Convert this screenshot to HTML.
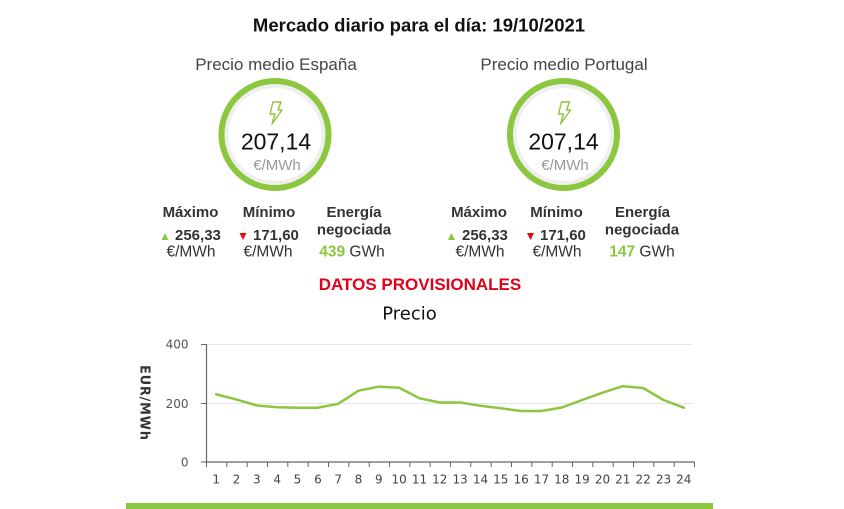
<!DOCTYPE html>
<html>
<head>
<meta charset="utf-8">
<style>
  html,body{margin:0;padding:0;background:#fff;}
  body{width:844px;height:509px;overflow:hidden;}
  svg{display:block;}
  .sans{font-family:"Liberation Sans", Arial, sans-serif;}
  .dj{font-family:"DejaVu Sans", "Liberation Sans", sans-serif;}
</style>
</head>
<body>
<svg width="844" height="509" viewBox="0 0 844 509" xmlns="http://www.w3.org/2000/svg">
  <rect width="844" height="509" fill="#fff"/>

  <!-- Title -->
  <text class="sans" x="419" y="31.5" text-anchor="middle" font-size="18.5" font-weight="bold" fill="#111">Mercado diario para el día: 19/10/2021</text>

  <!-- Spain block -->
  <text class="sans" x="276" y="70" text-anchor="middle" font-size="17" fill="#444">Precio medio España</text>
  <circle cx="275" cy="134.5" r="48.5" fill="none" stroke="#efefef" stroke-width="4"/>
  <circle cx="275" cy="134.5" r="53.5" fill="none" stroke="#8dc63f" stroke-width="6"/>
  <path d="M273,102 L281,102 L278,110 L282,110 L272,124 L275,114 L270,114 Z" fill="none" stroke="#8dc63f" stroke-width="1.4" stroke-linejoin="round"/>
  <text class="sans" x="276" y="149.5" text-anchor="middle" font-size="23" fill="#111">207,14</text>
  <text class="sans" x="277" y="170" text-anchor="middle" font-size="15" fill="#999">€/MWh</text>

  <text class="sans" x="190.5" y="217" text-anchor="middle" font-size="15" font-weight="bold" fill="#333">Máximo</text>
  <text class="sans" x="269" y="217" text-anchor="middle" font-size="15" font-weight="bold" fill="#333">Mínimo</text>
  <text class="sans" x="354" y="217" text-anchor="middle" font-size="15" font-weight="bold" fill="#333">Energía</text>
  <text class="sans" x="354" y="234.5" text-anchor="middle" font-size="15" font-weight="bold" fill="#333">negociada</text>

  <polygon points="161.5,240 168.5,240 165,233" fill="#8dc63f"/>
  <text class="sans" x="175" y="240" font-size="15" font-weight="bold" fill="#333">256,33</text>
  <polygon points="239.5,233 246.5,233 243,240" fill="#e30613"/>
  <text class="sans" x="253" y="240" font-size="15" font-weight="bold" fill="#333">171,60</text>

  <text class="sans" x="191" y="256.5" text-anchor="middle" font-size="15.5" fill="#333">€/MWh</text>
  <text class="sans" x="268" y="256.5" text-anchor="middle" font-size="15.5" fill="#333">€/MWh</text>
  <text class="sans" x="352" y="256.5" text-anchor="middle" font-size="15.5" fill="#333"><tspan font-weight="bold" fill="#8dc63f">439</tspan> GWh</text>

  <!-- Portugal block -->
  <text class="sans" x="564" y="70" text-anchor="middle" font-size="17" fill="#444">Precio medio Portugal</text>
  <circle cx="563.5" cy="134.5" r="48.5" fill="none" stroke="#efefef" stroke-width="4"/>
  <circle cx="563.5" cy="134.5" r="53.5" fill="none" stroke="#8dc63f" stroke-width="6"/>
  <path d="M561.5,102 L569.5,102 L566.5,110 L570.5,110 L560.5,124 L563.5,114 L558.5,114 Z" fill="none" stroke="#8dc63f" stroke-width="1.4" stroke-linejoin="round"/>
  <text class="sans" x="563.5" y="149.5" text-anchor="middle" font-size="23" fill="#111">207,14</text>
  <text class="sans" x="565" y="170" text-anchor="middle" font-size="15" fill="#999">€/MWh</text>

  <text class="sans" x="479" y="217" text-anchor="middle" font-size="15" font-weight="bold" fill="#333">Máximo</text>
  <text class="sans" x="556.5" y="217" text-anchor="middle" font-size="15" font-weight="bold" fill="#333">Mínimo</text>
  <text class="sans" x="642.5" y="217" text-anchor="middle" font-size="15" font-weight="bold" fill="#333">Energía</text>
  <text class="sans" x="642" y="234.5" text-anchor="middle" font-size="15" font-weight="bold" fill="#333">negociada</text>

  <polygon points="448,240 455,240 451.5,233" fill="#8dc63f"/>
  <text class="sans" x="462" y="240" font-size="15" font-weight="bold" fill="#333">256,33</text>
  <polygon points="527,233 534,233 530.5,240" fill="#e30613"/>
  <text class="sans" x="540" y="240" font-size="15" font-weight="bold" fill="#333">171,60</text>

  <text class="sans" x="480" y="256.5" text-anchor="middle" font-size="15.5" fill="#333">€/MWh</text>
  <text class="sans" x="557" y="256.5" text-anchor="middle" font-size="15.5" fill="#333">€/MWh</text>
  <text class="sans" x="642" y="256.5" text-anchor="middle" font-size="15.5" fill="#333"><tspan font-weight="bold" fill="#8dc63f">147</tspan> GWh</text>

  <!-- Provisional -->
  <text class="sans" x="420" y="290" text-anchor="middle" font-size="17" font-weight="bold" fill="#e2001a">DATOS PROVISIONALES</text>

  <!-- Chart title -->
  <text class="dj" x="409.5" y="319.3" text-anchor="middle" font-size="18" fill="#111">Precio</text>

  <!-- Grid -->
  <line x1="206" y1="344.5" x2="693" y2="344.5" stroke="#e6e6e6" stroke-width="1"/>
  <line x1="206" y1="403.5" x2="693" y2="403.5" stroke="#e6e6e6" stroke-width="1"/>

  <!-- Y axis -->
  <line x1="206.5" y1="344" x2="206.5" y2="462" stroke="#666" stroke-width="1.2"/>
  <line x1="201" y1="344.5" x2="206" y2="344.5" stroke="#666" stroke-width="1"/>
  <line x1="201" y1="403.5" x2="206" y2="403.5" stroke="#666" stroke-width="1"/>
  <line x1="201" y1="462" x2="206" y2="462" stroke="#666" stroke-width="1"/>
  <text class="dj" x="188.5" y="348.5" text-anchor="end" font-size="12" fill="#555">400</text>
  <text class="dj" x="188.5" y="408" text-anchor="end" font-size="12" fill="#555">200</text>
  <text class="dj" x="188.5" y="466.5" text-anchor="end" font-size="12" fill="#555">0</text>
  <text class="dj" transform="translate(140.5,402.5) rotate(90)" x="0" y="0" text-anchor="middle" font-size="13" font-weight="bold" fill="#333" textLength="75" lengthAdjust="spacing">EUR/MWh</text>

  <!-- X axis -->
  <line x1="206" y1="462" x2="694.5" y2="462" stroke="#666" stroke-width="1.2"/>
  <g stroke="#666" stroke-width="1">
    <line x1="206.5" y1="462" x2="206.5" y2="467"/>
    <line x1="226.8" y1="462" x2="226.8" y2="467"/>
    <line x1="247.2" y1="462" x2="247.2" y2="467"/>
    <line x1="267.5" y1="462" x2="267.5" y2="467"/>
    <line x1="287.8" y1="462" x2="287.8" y2="467"/>
    <line x1="308.2" y1="462" x2="308.2" y2="467"/>
    <line x1="328.5" y1="462" x2="328.5" y2="467"/>
    <line x1="348.8" y1="462" x2="348.8" y2="467"/>
    <line x1="369.2" y1="462" x2="369.2" y2="467"/>
    <line x1="389.5" y1="462" x2="389.5" y2="467"/>
    <line x1="409.8" y1="462" x2="409.8" y2="467"/>
    <line x1="430.2" y1="462" x2="430.2" y2="467"/>
    <line x1="450.5" y1="462" x2="450.5" y2="467"/>
    <line x1="470.8" y1="462" x2="470.8" y2="467"/>
    <line x1="491.2" y1="462" x2="491.2" y2="467"/>
    <line x1="511.5" y1="462" x2="511.5" y2="467"/>
    <line x1="531.8" y1="462" x2="531.8" y2="467"/>
    <line x1="552.2" y1="462" x2="552.2" y2="467"/>
    <line x1="572.5" y1="462" x2="572.5" y2="467"/>
    <line x1="592.8" y1="462" x2="592.8" y2="467"/>
    <line x1="613.2" y1="462" x2="613.2" y2="467"/>
    <line x1="633.5" y1="462" x2="633.5" y2="467"/>
    <line x1="653.8" y1="462" x2="653.8" y2="467"/>
    <line x1="674.2" y1="462" x2="674.2" y2="467"/>
    <line x1="694.5" y1="462" x2="694.5" y2="467"/>
  </g>
  <g class="dj" font-size="12" fill="#444" text-anchor="middle">
    <text x="216.2" y="483.5">1</text>
    <text x="236.5" y="483.5">2</text>
    <text x="256.8" y="483.5">3</text>
    <text x="277.2" y="483.5">4</text>
    <text x="297.5" y="483.5">5</text>
    <text x="317.9" y="483.5">6</text>
    <text x="338.2" y="483.5">7</text>
    <text x="358.5" y="483.5">8</text>
    <text x="378.8" y="483.5">9</text>
    <text x="399.2" y="483.5">10</text>
    <text x="419.5" y="483.5">11</text>
    <text x="439.8" y="483.5">12</text>
    <text x="460.2" y="483.5">13</text>
    <text x="480.5" y="483.5">14</text>
    <text x="500.8" y="483.5">15</text>
    <text x="521.2" y="483.5">16</text>
    <text x="541.5" y="483.5">17</text>
    <text x="561.8" y="483.5">18</text>
    <text x="582.2" y="483.5">19</text>
    <text x="602.5" y="483.5">20</text>
    <text x="622.8" y="483.5">21</text>
    <text x="643.2" y="483.5">22</text>
    <text x="663.5" y="483.5">23</text>
    <text x="683.8" y="483.5">24</text>
  </g>

  <!-- Series -->
  <polyline fill="none" stroke="#8cc63f" stroke-width="2.5" stroke-linejoin="round" stroke-linecap="round"
    points="216.2,394.3 236.5,399.6 256.8,405.5 277.2,407.2 297.5,407.7 317.9,407.7 338.2,403.8 358.5,390.7 378.8,386.7 399.2,387.7 419.5,398.3 439.8,402.5 460.2,402.5 480.5,405.8 500.8,408.3 521.2,411 541.5,411 561.8,407.5 582.2,400 602.5,392.7 622.8,386.2 643.2,388 663.5,400 683.8,407.7"/>

  <!-- Bottom bar -->
  <rect x="126" y="503" width="587" height="6" fill="#8dc63f"/>
</svg>
</body>
</html>
